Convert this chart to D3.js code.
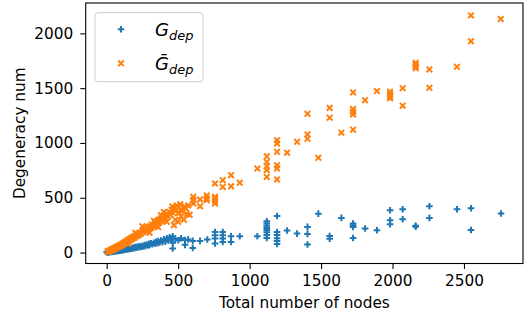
<!DOCTYPE html>
<html><head><meta charset="utf-8">
<script src="https://cdn.jsdelivr.net/npm/d3@7"></script>
<style>body{margin:0;background:#fff}svg{display:block}text{font-family:"DejaVu Sans",sans-serif}</style>
</head><body>
<svg id="c" width="529" height="320"></svg>
<script>
// G_dep (blue '+')
const gdepX = [0,5,10,15,20,25,30,35,40,45,50,55,60,65,70,75,80,85,90,95,100,110,115,120,130,135,140,150,155,160,170,175,180,190,195,200,210,215,225,230,240,250,255,265,270,280,290,295,300,310,320,330,340,345,355,360,370,380,390,400,410,420,430,440,450,462,462,462,480,501,520,548,548,570,602,602,653,704,758,758,758,758,812,812,812,812,870,870,931,
1054,1120,1120,1120,1120,1120,1120,1120,1120,1192,1192,1192,1192,1192,1192,1262,1332,1405,1405,1405,1481,1560,1560,1642,1724,1724,1724,1724,1808,1891,1983,1983,1983,2071,2071,2162,2162,2258,2258,2451,2549,2549,2759];
const gdepY = [2,5,3,6,4,8,6,10,8,12,10,14,12,16,13,18,15,20,17,22,20,24,22,28,26,32,28,36,30,38,34,42,38,46,40,50,44,55,48,58,52,62,55,68,58,72,64,80,70,85,75,90,80,98,85,105,92,110,95,120,100,130,110,140,118,149,90,37,125,112,130,115,70,120,106,42,106,119,188,158,128,82,188,158,128,97,149,97,149,
149,286,265,245,225,205,185,160,133,334,188,160,130,105,78,201,173,234,170,73,355,150,126,316,265,250,234,133,219,204,386,295,258,395,304,245,235,423,316,395,404,206,356];
// Ḡ_dep (orange 'x')
const gbarX = [5,10,15,20,25,30,35,40,45,50,55,60,65,70,75,80,85,90,95,100,105,110,115,120,125,130,135,140,145,150,155,160,165,170,175,180,185,190,195,200,210,215,220,230,235,240,250,255,260,270,275,280,290,295,300,310,315,320,330,340,345,350,360,365,370,380,385,390,400,405,410,420,430,440,445,455,460,465,470,480,490,500,505,515,520,530,545,555,570,580,470,480,500,520,540,560,
150,200,250,300,330,360,400,420,380,
606,606,606,653,653,700,700,700,758,758,758,758,758,812,812,870,870,931,
1054,1120,1120,1120,1120,1120,1192,1192,1192,1192,1192,1192,1262,1332,1405,1405,1405,1481,1560,1560,1642,1724,1724,1724,1724,1724,1808,1891,1983,1983,1983,1983,2071,2071,2162,2162,2162,2162,2258,2258,2451,2549,2549,2757];
const gbarY = [10,5,15,12,20,18,28,25,35,30,40,45,38,50,55,48,60,65,58,72,68,80,75,88,85,95,90,105,100,110,118,108,125,120,135,128,140,132,150,145,160,150,170,165,180,175,195,185,210,200,220,195,230,215,240,225,255,240,250,270,245,285,265,300,280,310,290,330,300,340,315,355,330,370,345,390,420,360,400,380,430,410,360,440,395,380,420,400,430,345,250,300,280,330,300,350,
80,180,240,180,290,230,370,280,340,
508,480,447,484,423,520,495,478,630,508,490,470,447,660,599,706,605,636,
767,878,827,788,751,690,1025,995,919,797,767,667,911,1010,1266,1078,1038,864,1320,1231,1094,1461,1310,1285,1260,1121,1390,1473,1467,1445,1425,1407,1500,1340,1731,1715,1700,1682,1671,1503,1695,2164,1927,2130];
const xTicks = [0,500,1000,1500,2000,2500];
const yTicks = [0,500,1000,1500,2000];
const xLabel = "Total number of nodes";
const yLabel = "Degeneracy num";
const blue = "#1f77b4", orange = "#ff7f0e";

const svg = d3.select("#c");
const L = 85.7, R = 523, T = 3, B = 263.5;
const FS = 15.3;
const xs = d3.scaleLinear().domain([-147, 2913]).range([L, R]);
const ys = d3.scaleLinear().domain([-100, 2277]).range([B, T]);

// points
const g = svg.append("g");
const s = 3.3;
g.selectAll(".p").data(d3.range(gdepX.length)).join("path")
  .attr("d", i => { const cx = xs(gdepX[i]), cy = ys(gdepY[i]);
    return `M${cx-s},${cy}H${cx+s}M${cx},${cy-s}V${cy+s}`; })
  .attr("stroke", blue).attr("stroke-width", 2).attr("fill", "none");
const t = 2.8;
g.selectAll(".q").data(d3.range(gbarX.length)).join("path")
  .attr("d", i => { const cx = xs(gbarX[i]), cy = ys(gbarY[i]);
    return `M${cx-t},${cy-t}L${cx+t},${cy+t}M${cx-t},${cy+t}L${cx+t},${cy-t}`; })
  .attr("stroke", orange).attr("stroke-width", 2).attr("fill", "none");

// axes
const xa = svg.append("g").attr("transform", `translate(0,${B})`)
  .call(d3.axisBottom(xs).tickValues(xTicks).tickSize(5.4).tickPadding(6.5).tickFormat(d3.format("d")));
const ya = svg.append("g").attr("transform", `translate(${L},0)`)
  .call(d3.axisLeft(ys).tickValues(yTicks).tickSize(5.4).tickPadding(7).tickFormat(d3.format("d")));
[xa, ya].forEach(a => { a.select(".domain").remove();
  a.selectAll("text").attr("font-size", FS).attr("fill", "#000").attr("font-family", "DejaVu Sans");
  a.selectAll("line").attr("stroke", "#000").attr("stroke-width", 1.1); });
svg.append("rect").attr("x", L).attr("y", T).attr("width", R - L).attr("height", B - T)
  .attr("fill", "none").attr("stroke", "#000").attr("stroke-width", 1.1);

svg.append("text").attr("x", (L + R) / 2).attr("y", 307.5).attr("text-anchor", "middle")
  .attr("font-size", FS).text(xLabel);
svg.append("text").attr("transform", `translate(24.5,${(T + B) / 2}) rotate(-90)`)
  .attr("text-anchor", "middle").attr("font-size", FS).text(yLabel);

// legend
const lg = svg.append("g");
lg.append("rect").attr("x", 95).attr("y", 12.7).attr("width", 108).attr("height", 69).attr("rx", 3)
  .attr("fill", "#fff").attr("fill-opacity", 0.8).attr("stroke", "#ccc").attr("stroke-width", 1);
lg.append("path").attr("d", `M${121-s},29.3H${121+s}M121,${29.3-s}V${29.3+s}`)
  .attr("stroke", blue).attr("stroke-width", 2);
lg.append("path").attr("d", `M${121-t},${63.3-t}L${121+t},${63.3+t}M${121-t},${63.3+t}L${121+t},${63.3-t}`)
  .attr("stroke", orange).attr("stroke-width", 2);
const names = ["G", "Ḡ"];
names.forEach((n, i) => {
  const tx = lg.append("text").attr("x", 155).attr("y", i ? 70 : 36).attr("font-size", 18).attr("font-style", "italic");
  tx.append("tspan").text(n);
  tx.append("tspan").attr("font-size", 13).attr("dy", 4).text("dep");
});
</script>
</body></html>
